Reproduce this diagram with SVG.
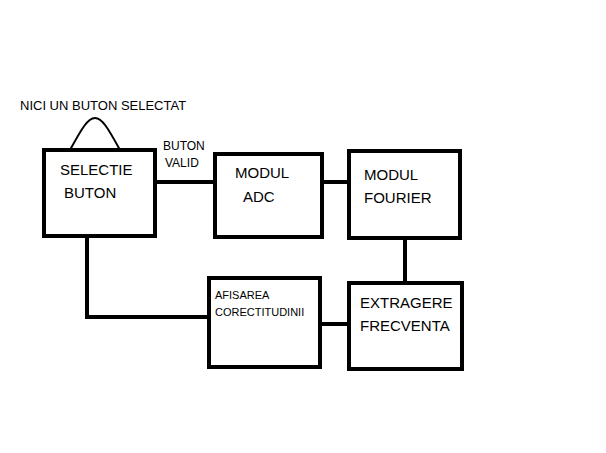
<svg xmlns="http://www.w3.org/2000/svg" width="606" height="453" viewBox="0 0 606 453">
<style>
.b{fill:#fff;stroke:#000;stroke-width:4}
.c{fill:none;stroke:#000;stroke-width:4}
text{font-family:"Liberation Sans",Arial,sans-serif;fill:#000}
.l{font-size:15px}.s{font-size:12px}.m{font-size:13px}.t{font-size:11px}
</style>
<rect width="606" height="453" fill="#fff"/>
<g id="connectors">
<line class="c" x1="155" y1="182" x2="215" y2="182"/>
<line class="c" x1="322" y1="182" x2="349" y2="182"/>
<line class="c" x1="405" y1="238" x2="405" y2="283"/>
<line class="c" x1="320" y1="324" x2="349" y2="324"/>
<polyline class="c" points="209,317 87,317 87,236"/>
<path d="M70,150 C82,128 88,118 95,118 C102,118 108,128 120,150" fill="none" stroke="#000" stroke-width="2"/>
<text class="m" x="20" y="110">NICI UN BUTON SELECTAT</text>
<text class="s" x="163" y="150">BUTON</text>
<text class="s" x="165" y="167">VALID</text>
</g>
<g id="selectie"><rect class="b" x="44" y="150" width="111" height="86"/><text class="l" x="60" y="175">SELECTIE</text><text class="l" x="64" y="198">BUTON</text></g>
<g id="adc"><rect class="b" x="215" y="154" width="107" height="83"/><text class="l" x="235" y="178">MODUL</text><text class="l" x="243" y="202">ADC</text></g>
<g id="fourier"><rect class="b" x="349" y="151" width="111" height="87"/><text class="l" x="364" y="180">MODUL</text><text class="l" x="364" y="203">FOURIER</text></g>
<g id="extragere"><rect class="b" x="349" y="283" width="113" height="86"/><text class="l" x="360" y="308">EXTRAGERE</text><text class="l" x="360" y="331">FRECVENTA</text></g>
<g id="afisarea"><rect class="b" x="209" y="278" width="111" height="89"/><text class="t" x="215" y="299">AFISAREA</text><text class="t" x="215" y="316">CORECTITUDINII</text></g>
</svg>
